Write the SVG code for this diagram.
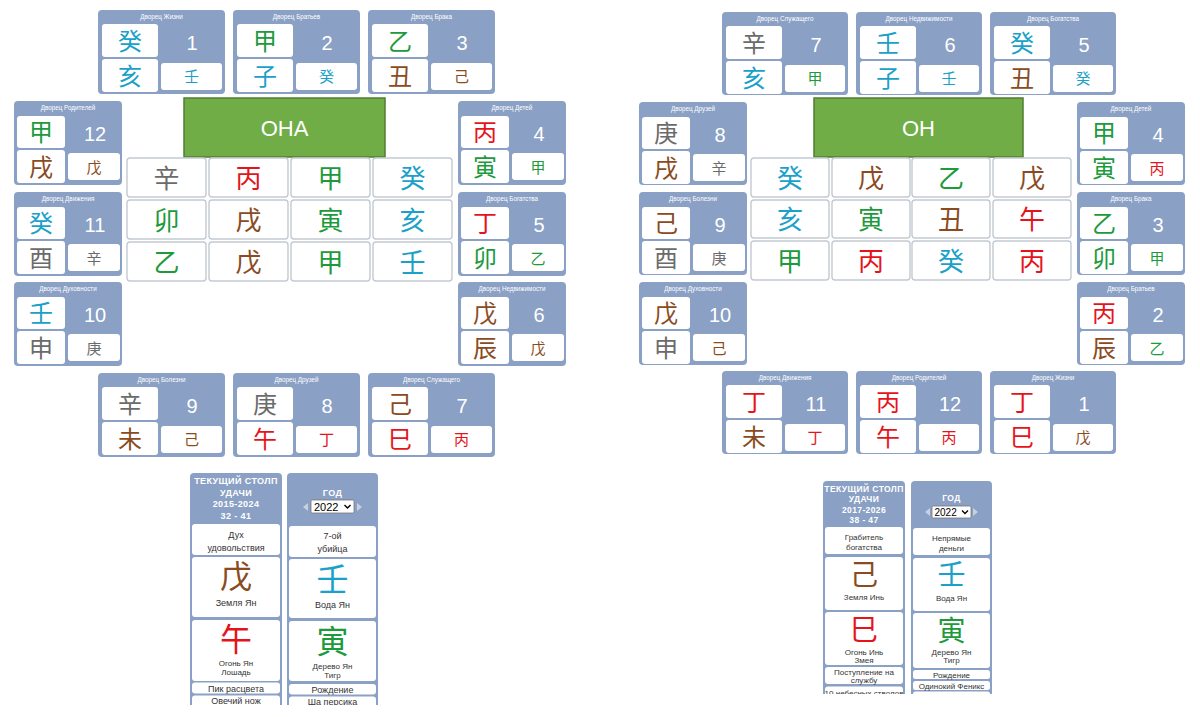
<svg xmlns="http://www.w3.org/2000/svg" width="1200" height="717" viewBox="0 0 1200 717">
<style>
.pb{fill:#8aa0c4}
.wc{fill:#fff}
.gc{fill:#fff;stroke:#c3cad2;stroke-width:1.4}
.pt{font-family:"Liberation Sans",Arial,sans-serif;font-size:6.3px;fill:#fff;text-anchor:middle}
.num{font-family:"Liberation Sans",Arial,sans-serif;font-size:20px;fill:#fff;text-anchor:middle}
.cb{font-family:"Noto Sans CJK SC","Noto Sans CJK JP",sans-serif;font-size:24px;text-anchor:middle}
.cs{font-family:"Noto Sans CJK SC","Noto Sans CJK JP",sans-serif;font-size:15px;text-anchor:middle}
.cg{font-family:"Noto Sans CJK SC","Noto Sans CJK JP",sans-serif;font-size:26px;text-anchor:middle}
.cp{font-family:"Noto Sans CJK SC","Noto Sans CJK JP",sans-serif;font-size:32px;text-anchor:middle}
.cq{font-family:"Noto Sans CJK SC","Noto Sans CJK JP",sans-serif;font-size:28px;text-anchor:middle}
.wa{fill:#1ba1c9}.wd{fill:#1d9a3c}.fi{fill:#e5141b}.ea{fill:#8a4b22}.me{fill:#6b6b6b}
.gb{fill:#70ad47;stroke:#507e32;stroke-width:1.5}
.gt{font-family:"Liberation Sans",Arial,sans-serif;font-size:22px;fill:#fff;text-anchor:middle}
.hd{font-family:"Liberation Sans",Arial,sans-serif;font-size:9px;font-weight:bold;fill:#fff;text-anchor:middle;letter-spacing:0.4px}
.hs{font-family:"Liberation Sans",Arial,sans-serif;font-size:8.5px;font-weight:bold;fill:#fff;text-anchor:middle;letter-spacing:0.4px}
.tx{font-family:"Liberation Sans",Arial,sans-serif;font-size:9px;fill:#333;text-anchor:middle}
.ts{font-family:"Liberation Sans",Arial,sans-serif;font-size:8px;fill:#333;text-anchor:middle}
.sel{fill:#fff;stroke:#777;stroke-width:0.8}
.st{font-family:"Liberation Sans",Arial,sans-serif;font-size:11px;fill:#000}
.ar{fill:#c8d0dc}
</style>
<defs>
<clipPath id="clipL"><rect x="180" y="460" width="210" height="245"/></clipPath>
<clipPath id="clipR"><rect x="815" y="470" width="190" height="224"/></clipPath>
</defs>

<!-- ===== LEFT: ОНА ===== -->
<g id="l-zhizni" transform="translate(98,10)">
<rect class="pb" width="127" height="84" rx="4"/><text class="pt" x="63.5" y="9">Дворец Жизни</text>
<rect class="wc" x="4" y="14" width="56" height="33" rx="3"/><rect class="wc" x="4" y="49" width="56" height="33" rx="3"/><rect class="wc" x="63" y="53" width="61" height="27" rx="3"/>
<text class="num" x="94" y="40">1</text><text class="cb wa" x="32" y="39.5">癸</text><text class="cb wa" x="32" y="74.5">亥</text><text class="cs wa" x="93.5" y="72">壬</text>
</g>
<g id="l-bratyev" transform="translate(233,10)">
<rect class="pb" width="127" height="84" rx="4"/><text class="pt" x="63.5" y="9">Дворец Братьев</text>
<rect class="wc" x="4" y="14" width="56" height="33" rx="3"/><rect class="wc" x="4" y="49" width="56" height="33" rx="3"/><rect class="wc" x="63" y="53" width="61" height="27" rx="3"/>
<text class="num" x="94" y="40">2</text><text class="cb wd" x="32" y="39.5">甲</text><text class="cb wa" x="32" y="74.5">子</text><text class="cs wa" x="93.5" y="72">癸</text>
</g>
<g id="l-braka" transform="translate(368,10)">
<rect class="pb" width="127" height="84" rx="4"/><text class="pt" x="63.5" y="9">Дворец Брака</text>
<rect class="wc" x="4" y="14" width="56" height="33" rx="3"/><rect class="wc" x="4" y="49" width="56" height="33" rx="3"/><rect class="wc" x="63" y="53" width="61" height="27" rx="3"/>
<text class="num" x="94" y="40">3</text><text class="cb wd" x="32" y="39.5">乙</text><text class="cb ea" x="32" y="74.5">丑</text><text class="cs ea" x="93.5" y="72">己</text>
</g>
<g id="l-roditeley" transform="translate(14,101)">
<rect class="pb" width="108" height="84" rx="4"/><text class="pt" x="54" y="9">Дворец Родителей</text>
<rect class="wc" x="3" y="15" width="48" height="32" rx="3"/><rect class="wc" x="3" y="49" width="48" height="33" rx="3"/><rect class="wc" x="54" y="52" width="52" height="27" rx="3"/>
<text class="num" x="81" y="40">12</text><text class="cb wd" x="27" y="40">甲</text><text class="cb ea" x="27" y="74.5">戌</text><text class="cs ea" x="80" y="71.5">戊</text>
</g>
<g id="l-dvizheniya" transform="translate(14,192)">
<rect class="pb" width="108" height="84" rx="4"/><text class="pt" x="54" y="9">Дворец Движения</text>
<rect class="wc" x="3" y="15" width="48" height="32" rx="3"/><rect class="wc" x="3" y="49" width="48" height="33" rx="3"/><rect class="wc" x="54" y="52" width="52" height="27" rx="3"/>
<text class="num" x="81" y="40">11</text><text class="cb wa" x="27" y="40">癸</text><text class="cb me" x="27" y="74.5">酉</text><text class="cs me" x="80" y="71.5">辛</text>
</g>
<g id="l-duhovnosti" transform="translate(14,282)">
<rect class="pb" width="108" height="84" rx="4"/><text class="pt" x="54" y="9">Дворец Духовности</text>
<rect class="wc" x="3" y="15" width="48" height="32" rx="3"/><rect class="wc" x="3" y="49" width="48" height="33" rx="3"/><rect class="wc" x="54" y="52" width="52" height="27" rx="3"/>
<text class="num" x="81" y="40">10</text><text class="cb wa" x="27" y="40">壬</text><text class="cb me" x="27" y="74.5">申</text><text class="cs me" x="80" y="71.5">庚</text>
</g>
<g id="l-detey" transform="translate(458,101)">
<rect class="pb" width="108" height="84" rx="4"/><text class="pt" x="54" y="9">Дворец Детей</text>
<rect class="wc" x="3" y="15" width="48" height="32" rx="3"/><rect class="wc" x="3" y="49" width="48" height="33" rx="3"/><rect class="wc" x="54" y="52" width="52" height="27" rx="3"/>
<text class="num" x="81" y="40">4</text><text class="cb fi" x="27" y="40">丙</text><text class="cb wd" x="27" y="74.5">寅</text><text class="cs wd" x="80" y="71.5">甲</text>
</g>
<g id="l-bogatstva" transform="translate(458,192)">
<rect class="pb" width="108" height="84" rx="4"/><text class="pt" x="54" y="9">Дворец Богатства</text>
<rect class="wc" x="3" y="15" width="48" height="32" rx="3"/><rect class="wc" x="3" y="49" width="48" height="33" rx="3"/><rect class="wc" x="54" y="52" width="52" height="27" rx="3"/>
<text class="num" x="81" y="40">5</text><text class="cb fi" x="27" y="40">丁</text><text class="cb wd" x="27" y="74.5">卯</text><text class="cs wd" x="80" y="71.5">乙</text>
</g>
<g id="l-nedvizhimosti" transform="translate(458,282)">
<rect class="pb" width="108" height="84" rx="4"/><text class="pt" x="54" y="9">Дворец Недвижимости</text>
<rect class="wc" x="3" y="15" width="48" height="32" rx="3"/><rect class="wc" x="3" y="49" width="48" height="33" rx="3"/><rect class="wc" x="54" y="52" width="52" height="27" rx="3"/>
<text class="num" x="81" y="40">6</text><text class="cb ea" x="27" y="40">戊</text><text class="cb ea" x="27" y="74.5">辰</text><text class="cs ea" x="80" y="71.5">戊</text>
</g>
<g id="l-bolezni" transform="translate(98,373)">
<rect class="pb" width="127" height="84" rx="4"/><text class="pt" x="63.5" y="9">Дворец Болезни</text>
<rect class="wc" x="4" y="14" width="56" height="33" rx="3"/><rect class="wc" x="4" y="49" width="56" height="33" rx="3"/><rect class="wc" x="63" y="53" width="61" height="27" rx="3"/>
<text class="num" x="94" y="40">9</text><text class="cb me" x="32" y="39.5">辛</text><text class="cb ea" x="32" y="74.5">未</text><text class="cs ea" x="93.5" y="72">己</text>
</g>
<g id="l-druzey" transform="translate(233,373)">
<rect class="pb" width="127" height="84" rx="4"/><text class="pt" x="63.5" y="9">Дворец Друзей</text>
<rect class="wc" x="4" y="14" width="56" height="33" rx="3"/><rect class="wc" x="4" y="49" width="56" height="33" rx="3"/><rect class="wc" x="63" y="53" width="61" height="27" rx="3"/>
<text class="num" x="94" y="40">8</text><text class="cb me" x="32" y="39.5">庚</text><text class="cb fi" x="32" y="74.5">午</text><text class="cs fi" x="93.5" y="72">丁</text>
</g>
<g id="l-sluzhaschego" transform="translate(368,373)">
<rect class="pb" width="127" height="84" rx="4"/><text class="pt" x="63.5" y="9">Дворец Служащего</text>
<rect class="wc" x="4" y="14" width="56" height="33" rx="3"/><rect class="wc" x="4" y="49" width="56" height="33" rx="3"/><rect class="wc" x="63" y="53" width="61" height="27" rx="3"/>
<text class="num" x="94" y="40">7</text><text class="cb ea" x="32" y="39.5">己</text><text class="cb fi" x="32" y="74.5">巳</text><text class="cs fi" x="93.5" y="72">丙</text>
</g>

<g id="l-title">
<rect class="gb" x="184" y="98" width="201" height="59"/>
<text class="gt" x="284.5" y="136">ОНА</text>
</g>
<g id="l-grid">
<rect class="gc" x="127" y="158" width="79" height="39" rx="3"/><rect class="gc" x="209" y="158" width="79" height="39" rx="3"/><rect class="gc" x="291" y="158" width="79" height="39" rx="3"/><rect class="gc" x="373" y="158" width="79" height="39" rx="3"/>
<rect class="gc" x="127" y="200" width="79" height="39" rx="3"/><rect class="gc" x="209" y="200" width="79" height="39" rx="3"/><rect class="gc" x="291" y="200" width="79" height="39" rx="3"/><rect class="gc" x="373" y="200" width="79" height="39" rx="3"/>
<rect class="gc" x="127" y="242" width="79" height="39" rx="3"/><rect class="gc" x="209" y="242" width="79" height="39" rx="3"/><rect class="gc" x="291" y="242" width="79" height="39" rx="3"/><rect class="gc" x="373" y="242" width="79" height="39" rx="3"/>
<text class="cg me" x="166.5" y="187.5">辛</text><text class="cg fi" x="248.5" y="187.5">丙</text><text class="cg wd" x="330.5" y="187.5">甲</text><text class="cg wa" x="412.5" y="187.5">癸</text>
<text class="cg wd" x="166.5" y="229.5">卯</text><text class="cg ea" x="248.5" y="229.5">戌</text><text class="cg wd" x="330.5" y="229.5">寅</text><text class="cg wa" x="412.5" y="229.5">亥</text>
<text class="cg wd" x="166.5" y="271.5">乙</text><text class="cg ea" x="248.5" y="271.5">戊</text><text class="cg wd" x="330.5" y="271.5">甲</text><text class="cg wa" x="412.5" y="271.5">壬</text>
</g>

<g id="l-luck" clip-path="url(#clipL)">
<rect class="pb" x="190" y="473" width="92" height="240" rx="4"/>
<text class="hd" x="236" y="484">ТЕКУЩИЙ СТОЛП</text><text class="hd" x="236" y="495.5">УДАЧИ</text><text class="hd" x="236" y="507">2015-2024</text><text class="hd" x="236" y="519">32 - 41</text>
<rect class="wc" x="192" y="524" width="88" height="31" rx="3"/>
<text class="tx" x="236" y="538">Дух</text><text class="tx" x="236" y="551">удовольствия</text>
<rect class="wc" x="192" y="557" width="88" height="60" rx="3"/>
<text class="cp ea" x="236" y="588">戊</text><text class="tx" x="236" y="606">Земля Ян</text>
<rect class="wc" x="192" y="620" width="88" height="61" rx="3"/>
<text class="cp fi" x="236" y="651">午</text><text class="ts" x="236" y="666">Огонь Ян</text><text class="ts" x="236" y="675">Лошадь</text>
<rect class="wc" x="192" y="682.5" width="88" height="11" rx="3"/>
<text class="tx" x="236" y="691.5">Пик расцвета</text>
<rect class="wc" x="192" y="695.5" width="88" height="16" rx="3"/>
<text class="tx" x="236" y="704">Овечий нож</text>
</g>
<g id="l-year" clip-path="url(#clipL)">
<rect class="pb" x="287" y="473" width="91" height="240" rx="4"/>
<text class="hd" x="332.5" y="495.5">ГОД</text>
<polygon class="ar" points="308,503 308,511 303,507"/>
<polygon class="ar" points="357,503 357,511 362,507"/>
<rect class="sel" x="311" y="500" width="43" height="13" rx="1.5"/>
<text class="st" x="314" y="510.5">2022</text>
<path d="M344.5 505 L347.5 508 L350.5 505" fill="none" stroke="#000" stroke-width="1.4"/>
<rect class="wc" x="289" y="526" width="87" height="31" rx="3"/>
<text class="tx" x="332.5" y="539">7-ой</text><text class="tx" x="332.5" y="552">убийца</text>
<rect class="wc" x="289" y="559" width="87" height="59" rx="3"/>
<text class="cp wa" x="332.5" y="591">壬</text><text class="tx" x="332.5" y="608">Вода Ян</text>
<rect class="wc" x="289" y="621" width="87" height="60" rx="3"/>
<text class="cp wd" x="332.5" y="653">寅</text><text class="ts" x="332.5" y="669">Дерево Ян</text><text class="ts" x="332.5" y="678">Тигр</text>
<rect class="wc" x="289" y="684" width="87" height="10.5" rx="3"/>
<text class="tx" x="332.5" y="693">Рождение</text>
<rect class="wc" x="289" y="696.5" width="87" height="16" rx="3"/>
<text class="tx" x="332.5" y="704.5">Ша персика</text>
</g>

<!-- ===== RIGHT: ОН ===== -->
<g id="r-sluzhaschego" transform="translate(722,12)">
<rect class="pb" width="126" height="83" rx="4"/><text class="pt" x="63" y="9">Дворец Служащего</text>
<rect class="wc" x="4" y="14" width="56" height="33" rx="3"/><rect class="wc" x="4" y="49" width="56" height="33" rx="3"/><rect class="wc" x="63" y="53" width="60" height="27" rx="3"/>
<text class="num" x="94" y="40">7</text><text class="cb me" x="32" y="39.5">辛</text><text class="cb wa" x="32" y="74.5">亥</text><text class="cs wd" x="93" y="72">甲</text>
</g>
<g id="r-nedvizhimosti" transform="translate(856,12)">
<rect class="pb" width="126" height="83" rx="4"/><text class="pt" x="63" y="9">Дворец Недвижимости</text>
<rect class="wc" x="4" y="14" width="56" height="33" rx="3"/><rect class="wc" x="4" y="49" width="56" height="33" rx="3"/><rect class="wc" x="63" y="53" width="60" height="27" rx="3"/>
<text class="num" x="94" y="40">6</text><text class="cb wa" x="32" y="39.5">壬</text><text class="cb wa" x="32" y="74.5">子</text><text class="cs wa" x="93" y="72">壬</text>
</g>
<g id="r-bogatstva" transform="translate(990,12)">
<rect class="pb" width="126" height="83" rx="4"/><text class="pt" x="63" y="9">Дворец Богатства</text>
<rect class="wc" x="4" y="14" width="56" height="33" rx="3"/><rect class="wc" x="4" y="49" width="56" height="33" rx="3"/><rect class="wc" x="63" y="53" width="60" height="27" rx="3"/>
<text class="num" x="94" y="40">5</text><text class="cb wa" x="32" y="39.5">癸</text><text class="cb ea" x="32" y="74.5">丑</text><text class="cs wa" x="93" y="72">癸</text>
</g>
<g id="r-druzey" transform="translate(639,102)">
<rect class="pb" width="108" height="83" rx="4"/><text class="pt" x="54" y="9">Дворец Друзей</text>
<rect class="wc" x="3" y="15" width="48" height="32" rx="3"/><rect class="wc" x="3" y="49" width="48" height="33" rx="3"/><rect class="wc" x="54" y="52" width="52" height="27" rx="3"/>
<text class="num" x="81" y="40">8</text><text class="cb me" x="27" y="40">庚</text><text class="cb ea" x="27" y="74.5">戌</text><text class="cs me" x="80" y="71.5">辛</text>
</g>
<g id="r-bolezni" transform="translate(639,192)">
<rect class="pb" width="108" height="83" rx="4"/><text class="pt" x="54" y="9">Дворец Болезни</text>
<rect class="wc" x="3" y="15" width="48" height="32" rx="3"/><rect class="wc" x="3" y="49" width="48" height="33" rx="3"/><rect class="wc" x="54" y="52" width="52" height="27" rx="3"/>
<text class="num" x="81" y="40">9</text><text class="cb ea" x="27" y="40">己</text><text class="cb me" x="27" y="74.5">酉</text><text class="cs me" x="80" y="71.5">庚</text>
</g>
<g id="r-duhovnosti" transform="translate(639,282)">
<rect class="pb" width="108" height="83" rx="4"/><text class="pt" x="54" y="9">Дворец Духовности</text>
<rect class="wc" x="3" y="15" width="48" height="32" rx="3"/><rect class="wc" x="3" y="49" width="48" height="33" rx="3"/><rect class="wc" x="54" y="52" width="52" height="27" rx="3"/>
<text class="num" x="81" y="40">10</text><text class="cb ea" x="27" y="40">戊</text><text class="cb me" x="27" y="74.5">申</text><text class="cs ea" x="80" y="71.5">己</text>
</g>
<g id="r-detey" transform="translate(1077,102)">
<rect class="pb" width="108" height="83" rx="4"/><text class="pt" x="54" y="9">Дворец Детей</text>
<rect class="wc" x="3" y="15" width="48" height="32" rx="3"/><rect class="wc" x="3" y="49" width="48" height="33" rx="3"/><rect class="wc" x="54" y="52" width="52" height="27" rx="3"/>
<text class="num" x="81" y="40">4</text><text class="cb wd" x="27" y="40">甲</text><text class="cb wd" x="27" y="74.5">寅</text><text class="cs fi" x="80" y="71.5">丙</text>
</g>
<g id="r-braka" transform="translate(1077,192)">
<rect class="pb" width="108" height="83" rx="4"/><text class="pt" x="54" y="9">Дворец Брака</text>
<rect class="wc" x="3" y="15" width="48" height="32" rx="3"/><rect class="wc" x="3" y="49" width="48" height="33" rx="3"/><rect class="wc" x="54" y="52" width="52" height="27" rx="3"/>
<text class="num" x="81" y="40">3</text><text class="cb wd" x="27" y="40">乙</text><text class="cb wd" x="27" y="74.5">卯</text><text class="cs wd" x="80" y="71.5">甲</text>
</g>
<g id="r-bratyev" transform="translate(1077,282)">
<rect class="pb" width="108" height="83" rx="4"/><text class="pt" x="54" y="9">Дворец Братьев</text>
<rect class="wc" x="3" y="15" width="48" height="32" rx="3"/><rect class="wc" x="3" y="49" width="48" height="33" rx="3"/><rect class="wc" x="54" y="52" width="52" height="27" rx="3"/>
<text class="num" x="81" y="40">2</text><text class="cb fi" x="27" y="40">丙</text><text class="cb ea" x="27" y="74.5">辰</text><text class="cs wd" x="80" y="71.5">乙</text>
</g>
<g id="r-dvizheniya" transform="translate(722,371)">
<rect class="pb" width="126" height="83" rx="4"/><text class="pt" x="63" y="9">Дворец Движения</text>
<rect class="wc" x="4" y="14" width="56" height="33" rx="3"/><rect class="wc" x="4" y="49" width="56" height="33" rx="3"/><rect class="wc" x="63" y="53" width="60" height="27" rx="3"/>
<text class="num" x="94" y="40">11</text><text class="cb fi" x="32" y="39.5">丁</text><text class="cb ea" x="32" y="74.5">未</text><text class="cs fi" x="93" y="72">丁</text>
</g>
<g id="r-roditeley" transform="translate(856,371)">
<rect class="pb" width="126" height="83" rx="4"/><text class="pt" x="63" y="9">Дворец Родителей</text>
<rect class="wc" x="4" y="14" width="56" height="33" rx="3"/><rect class="wc" x="4" y="49" width="56" height="33" rx="3"/><rect class="wc" x="63" y="53" width="60" height="27" rx="3"/>
<text class="num" x="94" y="40">12</text><text class="cb fi" x="32" y="39.5">丙</text><text class="cb fi" x="32" y="74.5">午</text><text class="cs fi" x="93" y="72">丙</text>
</g>
<g id="r-zhizni" transform="translate(990,371)">
<rect class="pb" width="126" height="83" rx="4"/><text class="pt" x="63" y="9">Дворец Жизни</text>
<rect class="wc" x="4" y="14" width="56" height="33" rx="3"/><rect class="wc" x="4" y="49" width="56" height="33" rx="3"/><rect class="wc" x="63" y="53" width="60" height="27" rx="3"/>
<text class="num" x="94" y="40">1</text><text class="cb fi" x="32" y="39.5">丁</text><text class="cb fi" x="32" y="74.5">巳</text><text class="cs ea" x="93" y="72">戊</text>
</g>

<g id="r-title">
<rect class="gb" x="814" y="98" width="209" height="59"/>
<text class="gt" x="918.5" y="136">ОН</text>
</g>
<g id="r-grid">
<rect class="gc" x="751" y="158" width="78" height="39" rx="3"/><rect class="gc" x="832" y="158" width="78" height="39" rx="3"/><rect class="gc" x="912" y="158" width="78" height="39" rx="3"/><rect class="gc" x="993" y="158" width="78" height="39" rx="3"/>
<rect class="gc" x="751" y="200" width="78" height="38" rx="3"/><rect class="gc" x="832" y="200" width="78" height="38" rx="3"/><rect class="gc" x="912" y="200" width="78" height="38" rx="3"/><rect class="gc" x="993" y="200" width="78" height="38" rx="3"/>
<rect class="gc" x="751" y="241" width="78" height="39" rx="3"/><rect class="gc" x="832" y="241" width="78" height="39" rx="3"/><rect class="gc" x="912" y="241" width="78" height="39" rx="3"/><rect class="gc" x="993" y="241" width="78" height="39" rx="3"/>
<text class="cg wa" x="790" y="187.5">癸</text><text class="cg ea" x="871" y="187.5">戊</text><text class="cg wd" x="951" y="187.5">乙</text><text class="cg ea" x="1032" y="187.5">戊</text>
<text class="cg wa" x="790" y="229">亥</text><text class="cg wd" x="871" y="229">寅</text><text class="cg ea" x="951" y="229">丑</text><text class="cg fi" x="1032" y="229">午</text>
<text class="cg wd" x="790" y="270.5">甲</text><text class="cg fi" x="871" y="270.5">丙</text><text class="cg wa" x="951" y="270.5">癸</text><text class="cg fi" x="1032" y="270.5">丙</text>
</g>

<g id="r-luck" clip-path="url(#clipR)">
<rect class="pb" x="823" y="481" width="82" height="230" rx="4"/>
<text class="hs" x="864" y="491.5">ТЕКУЩИЙ СТОЛП</text><text class="hs" x="864" y="502">УДАЧИ</text><text class="hs" x="864" y="512.5">2017-2026</text><text class="hs" x="864" y="522.5">38 - 47</text>
<rect class="wc" x="825" y="527" width="78" height="27" rx="3"/>
<text class="ts" x="864" y="540">Грабитель</text><text class="ts" x="864" y="550">богатства</text>
<rect class="wc" x="825" y="557" width="78" height="53" rx="3"/>
<text class="cq ea" x="864" y="585">己</text><text class="ts" x="864" y="600">Земля Инь</text>
<rect class="wc" x="825" y="612" width="78" height="53" rx="3"/>
<text class="cq fi" x="864" y="640">巳</text><text class="ts" x="864" y="654.5">Огонь Инь</text><text class="ts" x="864" y="662.5">Змея</text>
<rect class="wc" x="825" y="667" width="78" height="17" rx="3"/>
<text class="ts" x="864" y="675">Поступление на</text><text class="ts" x="864" y="682.5">службу</text>
<rect class="wc" x="825" y="686.5" width="78" height="16" rx="3"/>
<text class="ts" x="864" y="695.5">10 небесных стволов</text>
</g>
<g id="r-year" clip-path="url(#clipR)">
<rect class="pb" x="911" y="481" width="81" height="230" rx="4"/>
<text class="hs" x="951.5" y="501">ГОД</text>
<polygon class="ar" points="930,508 930,516 925,512"/>
<polygon class="ar" points="973,508 973,516 978,512"/>
<rect class="sel" x="932" y="506" width="39" height="12" rx="1.5"/>
<text class="st" x="934.5" y="515.5" style="font-size:10px">2022</text>
<path d="M962 510.5 L965 513.5 L968 510.5" fill="none" stroke="#000" stroke-width="1.3"/>
<rect class="wc" x="913" y="528" width="77" height="27" rx="3"/>
<text class="ts" x="951.5" y="541">Непрямые</text><text class="ts" x="951.5" y="551">деньги</text>
<rect class="wc" x="913" y="558" width="77" height="53" rx="3"/>
<text class="cq wa" x="951.5" y="585">壬</text><text class="ts" x="951.5" y="601">Вода Ян</text>
<rect class="wc" x="913" y="613" width="77" height="55" rx="3"/>
<text class="cq wd" x="951.5" y="641">寅</text><text class="ts" x="951.5" y="655">Дерево Ян</text><text class="ts" x="951.5" y="662.5">Тигр</text>
<rect class="wc" x="913" y="670" width="77" height="9" rx="2.5"/>
<text class="ts" x="951.5" y="677.5">Рождение</text>
<rect class="wc" x="913" y="681" width="77" height="9" rx="2.5"/>
<text class="ts" x="951.5" y="688.5">Одинокий Феникс</text>
<rect class="wc" x="913" y="691.5" width="77" height="9" rx="2.5"/>
</g>
</svg>
